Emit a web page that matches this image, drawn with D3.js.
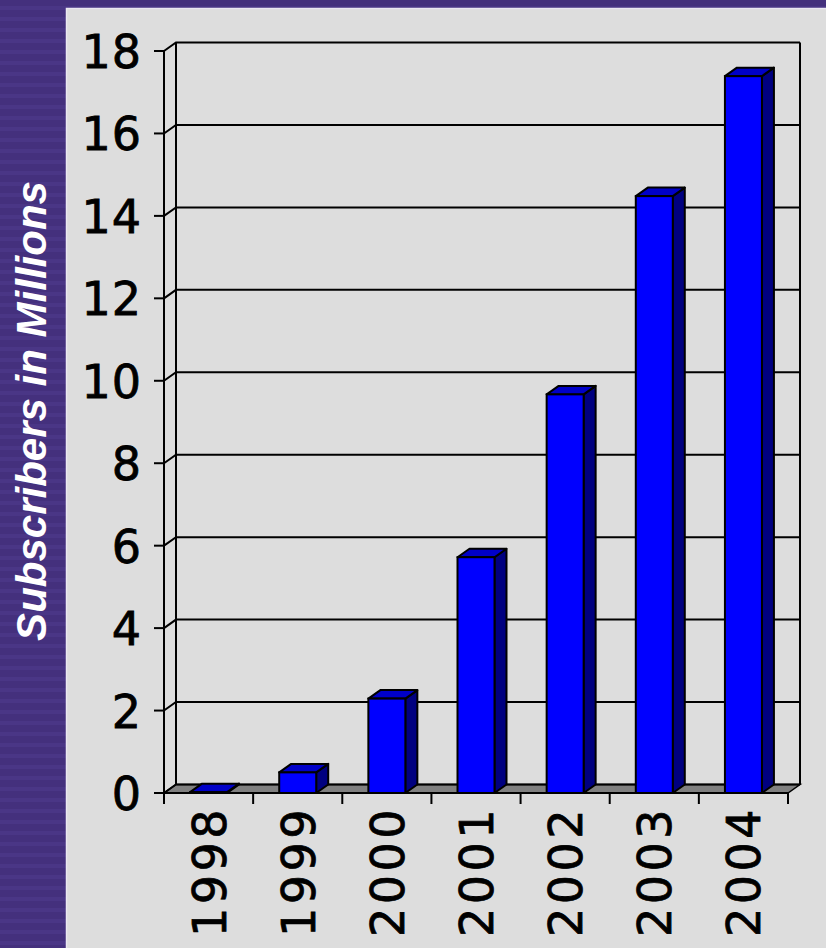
<!DOCTYPE html>
<html lang="en">
<head>
    <meta charset="UTF-8">
    <title>Subscribers in Millions</title>
    <script src="https://d3js.org/d3.v7.min.js"></script>
    <style>
        * { margin: 0; padding: 0; }
        body { width: 826px; height: 948px; overflow: hidden; background: #45307e; }
        svg { display: block; }
        .ylab { font-family: 'DejaVu Sans', sans-serif; font-size: 46px; fill: #000; stroke: #000; stroke-width: 0.8px; letter-spacing: 1px; }
        .xlab { font-family: 'DejaVu Sans', sans-serif; font-size: 46px; fill: #000; stroke: #000; stroke-width: 0.8px; letter-spacing: 3.5px; }
        .title { font-family: 'Liberation Sans', Arial, sans-serif; font-size: 42px; font-weight: bold; font-style: italic; fill: #fff; }
    </style>
</head>
<body>
    <div id="chart"></div>

    <script>
        // Data
        const years = ['1998', '1999', '2000', '2001', '2002', '2003', '2004'];
        const subscribers = [0.02, 0.5, 2.29, 5.72, 9.67, 14.48, 17.39];
        const yTicks = [0, 2, 4, 6, 8, 10, 12, 14, 16, 18];

        const W = 826, H = 948;
        const depth = { dx: 12, dy: -8.5 };

        const svg = d3.select('#chart').append('svg')
            .attr('width', W)
            .attr('height', H);

        // Striped purple background
        const defs = svg.append('defs');
        const pat = defs.append('pattern')
            .attr('id', 'stripes')
            .attr('patternUnits', 'userSpaceOnUse')
            .attr('width', 826)
            .attr('height', 11);
        pat.append('rect').attr('width', 826).attr('height', 11).attr('fill', '#44307d');
        pat.append('rect').attr('y', 6).attr('width', 826).attr('height', 4).attr('fill', '#4a3686');
        svg.append('rect').attr('width', W).attr('height', H).attr('fill', 'url(#stripes)');

        // Light gray panel
        svg.append('rect')
            .attr('x', 66).attr('y', 8)
            .attr('width', W - 66).attr('height', H - 8)
            .attr('fill', '#dddddd');
        svg.append('path')
            .attr('d', `M66.5,${H} V8.5 H${W}`)
            .attr('fill', 'none')
            .attr('stroke', '#ebe8f2')
            .attr('stroke-width', 1.5);

        // Scales
        const x = d3.scaleBand()
            .domain(years)
            .range([164, 788]);

        const y = d3.scaleLinear()
            .domain([0, 18])
            .range([793, 51]);

        const x0 = x.range()[0], x1 = x.range()[1];
        const y0 = y(0), yTop = y(18);
        const dx = depth.dx, dy = depth.dy;

        const g = svg.append('g');

        // Floor
        g.append('path')
            .attr('d', `M${x0},${y0} L${x1},${y0} L${x1 + dx},${y0 + dy} L${x0 + dx},${y0 + dy} Z`)
            .attr('fill', '#808080')
            .attr('stroke', '#000')
            .attr('stroke-width', 1.5);

        // Back wall gridlines + side wall diagonals
        yTicks.forEach(t => {
            const yy = y(t);
            g.append('path')
                .attr('d', `M${x0},${yy} L${x0 + dx},${yy + dy} L${x1 + dx},${yy + dy}`)
                .attr('fill', 'none')
                .attr('stroke', '#000')
                .attr('stroke-width', 2);
        });

        // Back wall verticals
        g.append('line')
            .attr('x1', x0 + dx).attr('x2', x0 + dx)
            .attr('y1', yTop + dy).attr('y2', y0 + dy)
            .attr('stroke', '#000').attr('stroke-width', 2);
        g.append('line')
            .attr('x1', x1 + dx).attr('x2', x1 + dx)
            .attr('y1', yTop + dy).attr('y2', y0 + dy)
            .attr('stroke', '#000').attr('stroke-width', 2);

        // Front y axis line + ticks
        g.append('line')
            .attr('x1', x0).attr('x2', x0)
            .attr('y1', yTop).attr('y2', y0 + 11)
            .attr('stroke', '#000').attr('stroke-width', 2);

        yTicks.forEach(t => {
            g.append('line')
                .attr('x1', x0 - 10).attr('x2', x0)
                .attr('y1', y(t)).attr('y2', y(t))
                .attr('stroke', '#000').attr('stroke-width', 2);
            g.append('text')
                .attr('class', 'ylab')
                .attr('x', 142)
                .attr('y', y(t) + 17)
                .attr('text-anchor', 'end')
                .text(t);
        });

        // Front x axis line + ticks
        g.append('line')
            .attr('x1', x0).attr('x2', x1)
            .attr('y1', y0).attr('y2', y0)
            .attr('stroke', '#000').attr('stroke-width', 2);

        years.concat(['end']).forEach((yr, i) => {
            const xx = i < years.length ? x(yr) : x1;
            g.append('line')
                .attr('x1', xx).attr('x2', xx)
                .attr('y1', y0).attr('y2', y0 + 11)
                .attr('stroke', '#000').attr('stroke-width', 2);
        });

        // 3D bars
        const bw = x.bandwidth() * 0.415;
        years.forEach((yr, i) => {
            const cx = x(yr) + x.bandwidth() / 2;
            const bl = cx - bw / 2, br = cx + bw / 2;
            const bt = y(subscribers[i]);
            const bar = g.append('g');

            // side face
            bar.append('path')
                .attr('d', `M${br},${y0} L${br},${bt} L${br + dx},${bt + dy} L${br + dx},${y0 + dy} Z`)
                .attr('fill', '#000080')
                .attr('stroke', '#000').attr('stroke-width', 2).attr('stroke-linejoin', 'round');
            // top face
            bar.append('path')
                .attr('d', `M${bl},${bt} L${br},${bt} L${br + dx},${bt + dy} L${bl + dx},${bt + dy} Z`)
                .attr('fill', '#0000c8')
                .attr('stroke', '#000').attr('stroke-width', 2).attr('stroke-linejoin', 'round');
            // front face
            bar.append('rect')
                .attr('x', bl).attr('y', bt)
                .attr('width', bw).attr('height', y0 - bt)
                .attr('fill', '#0000ff')
                .attr('stroke', '#000').attr('stroke-width', 2);
        });

        // X labels (rotated)
        years.forEach(yr => {
            const cx = x(yr) + x.bandwidth() / 2;
            g.append('text')
                .attr('class', 'xlab')
                .attr('transform', `translate(${cx + 17},${806}) rotate(-90)`)
                .attr('text-anchor', 'end')
                .text(yr);
        });

        // Y title
        svg.append('text')
            .attr('class', 'title')
            .attr('transform', 'translate(46,411) rotate(-90)')
            .attr('text-anchor', 'middle')
            .text('Subscribers in Millions');
    </script>
</body>
</html>
